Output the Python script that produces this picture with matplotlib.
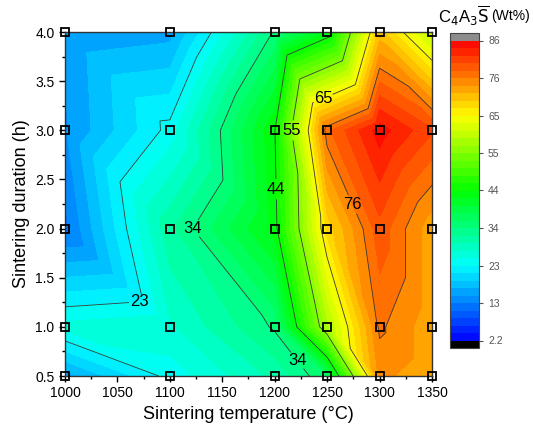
import numpy as np
import matplotlib
matplotlib.use("Agg")
import matplotlib.pyplot as plt
import matplotlib.tri as mtri
from matplotlib.colors import LinearSegmentedColormap
from matplotlib.ticker import MultipleLocator

plt.rcParams['font.family'] = ['Liberation Sans', 'DejaVu Sans']

# Datos
temperaturas = [1000, 1100, 1200, 1250, 1300, 1350]
duraciones = [0.5, 1.0, 2.0, 3.0, 4.0]
# contenido C4A3S (Wt%) por fila de duracion
fila_05 = [16, 24, 30, 35.5, 74, 72]
fila_10 = [26, 27, 34, 58, 76, 72]
fila_20 = [12, 31, 43, 68, 79, 72]
fila_30 = [14.5, 24, 44, 77, 85, 80]
fila_40 = [15, 16, 34, 42, 70, 59]

tick_labels = ['2.2', '13', '23', '34', '44', '55', '65', '76', '86']
vmin, vmax = 2.2, 86

TT, DD = np.meshgrid(temperaturas, duraciones)
Z = np.array([fila_05, fila_10, fila_20, fila_30, fila_40], dtype=float)

# triangulacion: cada celda partida por la diagonal arriba-izq / abajo-der
nx, ny = len(temperaturas), len(duraciones)
triangulos = []
for j in range(ny - 1):
    for i in range(nx - 1):
        a = j * nx + i
        b = a + 1
        c = a + nx
        d = c + 1
        triangulos.append([a, b, c])
        triangulos.append([c, b, d])
tri = mtri.Triangulation(TT.ravel(), DD.ravel(), triangulos)

cmap = LinearSegmentedColormap.from_list(
    'origin', ['#0000ff', '#00ffff', '#00ff00', '#ffff00', '#ff0000'])
cmap.set_under('black')
cmap.set_over('#8c8c8c')

niveles = np.linspace(vmin, vmax, 41)
niveles_linea = niveles[10:36:5]

fig = plt.figure(figsize=(5.33, 4.34), dpi=100)
ax = fig.add_axes([65/533, 58/434, 367/533, 344/434])
cax = fig.add_axes([450/533, 86/434, 29/533, 315/434])

cf = ax.tricontourf(tri, Z.ravel(), levels=niveles, cmap=cmap, extend='both')
cl = ax.tricontour(tri, Z.ravel(), levels=niveles_linea, colors='#3a3a3a',
                   linewidths=0.6)
pos_etiquetas = [(1071, 1.22), (1122, 2.0), (1229, 0.72), (1197, 2.4),
                 (1212, 3.0), (1248, 3.28), (1264, 2.2)]
etiquetas = ax.clabel(cl, fmt=lambda v: f'{v:.0f}', fontsize=12,
                      colors='black', manual=pos_etiquetas, inline=True,
                      inline_spacing=1)
for t in etiquetas:
    t.set_rotation(0)

ax.plot(TT.ravel(), DD.ravel(), 's', mfc='none', mec='black', ms=5.5,
        mew=1.3, clip_on=False, zorder=5)

ax.set_xlim(1000, 1350)
ax.set_ylim(0.5, 4.0)
ax.xaxis.set_major_locator(MultipleLocator(50))
ax.xaxis.set_minor_locator(MultipleLocator(25))
ax.yaxis.set_major_locator(MultipleLocator(0.5))
ax.yaxis.set_minor_locator(MultipleLocator(0.25))
ax.yaxis.set_major_formatter(plt.FormatStrFormatter('%.1f'))
ax.tick_params(direction='out', labelsize=10, length=4, width=1)
ax.tick_params(which='minor', direction='out', length=2.5, width=1)
for s in ax.spines.values():
    s.set_linewidth(1)
    s.set_color('#333333')
ax.set_xlabel('Sintering temperature (°C)', fontsize=13, labelpad=4)
ax.set_ylabel('Sintering duration (h)', fontsize=13, labelpad=4)

ticks = np.linspace(vmin, vmax, 9)
cb = fig.colorbar(cf, cax=cax, extend='both', extendrect=True,
                  extendfrac=0.025, ticks=ticks)
cb.ax.set_yticklabels(tick_labels)
cb.ax.tick_params(labelsize=7.5, colors='#555555', length=3, width=0.8)
cb.outline.set_linewidth(0.8)
cb.outline.set_edgecolor('#444444')

fig.text(438/533, 1 - 16/434, r'C$_4$A$_3\overline{\mathrm{S}}$', fontsize=12,
         va='center', ha='left')
fig.text(491/533, 1 - 16/434, '(Wt%)', fontsize=10, va='center', ha='left')

fig.savefig('out.png', dpi=100)
